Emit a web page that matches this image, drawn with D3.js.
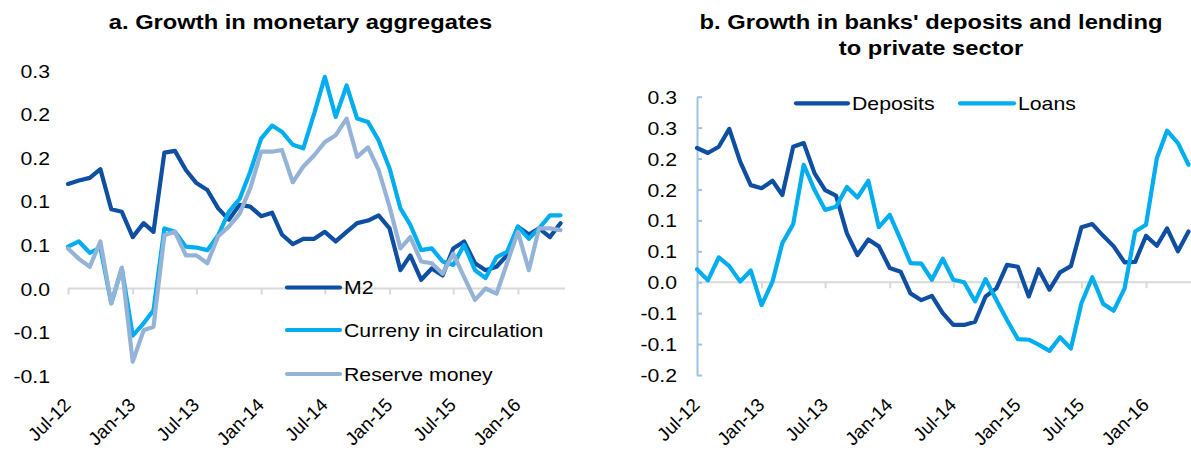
<!DOCTYPE html>
<html lang="en">
<head>
<meta charset="UTF-8" />
<title>Monetary aggregates, deposits and lending</title>
<script src="https://d3js.org/d3.v7.min.js"></script>
<style>
  body { margin: 0; background: #fff; }
  svg text { font-family: Arial, "Liberation Sans", sans-serif; fill: #000; }
  .lab { font-size: 18.8px; }
  .title { font-size: 21px; font-weight: bold; }
  .series { fill: none; stroke-width: 4.2; stroke-linejoin: round; stroke-linecap: round; }
</style>
</head>
<body>
<svg width="1191" height="450"></svg>
<script>
// monthly observations, Jul-12 .. May-16
const startMonth = new Date(2012, 6, 1);
const endMonth = new Date(2016, 4, 1);
const months = d3.timeMonth.range(startMonth, d3.timeMonth.offset(endMonth, 1));
const tickMonths = d3.timeMonth.every(6).range(startMonth, endMonth);

// panel a
const m2 = [0.120, 0.124, 0.127, 0.137, 0.091, 0.088, 0.059, 0.075, 0.065, 0.156, 0.158, 0.136,
  0.121, 0.113, 0.092, 0.079, 0.096, 0.094, 0.083, 0.087, 0.062, 0.051, 0.057, 0.057,
  0.065, 0.054, 0.065, 0.075, 0.078, 0.084, 0.069, 0.021, 0.038, 0.010, 0.023, 0.015,
  0.046, 0.054, 0.029, 0.021, 0.025, 0.038, 0.071, 0.062, 0.069, 0.059, 0.075];
const currency = [0.048, 0.054, 0.041, 0.047, -0.017, 0.023, -0.054, -0.040, -0.025, 0.069, 0.065, 0.048,
  0.047, 0.044, 0.061, 0.088, 0.103, 0.134, 0.172, 0.187, 0.180, 0.165, 0.161, 0.201,
  0.243, 0.197, 0.233, 0.195, 0.191, 0.170, 0.138, 0.092, 0.073, 0.044, 0.046, 0.031,
  0.027, 0.050, 0.021, 0.012, 0.036, 0.042, 0.071, 0.057, 0.069, 0.084, 0.084];
const reserve = [0.046, 0.034, 0.025, 0.054, -0.017, 0.024, -0.084, -0.048, -0.044, 0.061, 0.065, 0.038,
  0.038, 0.029, 0.060, 0.071, 0.086, 0.115, 0.157, 0.157, 0.159, 0.122, 0.140, 0.153,
  0.168, 0.176, 0.195, 0.151, 0.162, 0.136, 0.094, 0.046, 0.059, 0.031, 0.029, 0.017,
  0.040, 0.013, -0.013, 0.000, -0.006, 0.029, 0.065, 0.021, 0.069, 0.069, 0.067];

// panel b
const deposits = [0.217, 0.209, 0.219, 0.248, 0.195, 0.157, 0.152, 0.164, 0.141, 0.219, 0.225, 0.176,
  0.149, 0.140, 0.079, 0.044, 0.069, 0.058, 0.023, 0.017, -0.018, -0.029, -0.022, -0.050,
  -0.069, -0.069, -0.064, -0.023, -0.010, 0.028, 0.025, -0.023, 0.021, -0.012, 0.016, 0.026,
  0.089, 0.094, 0.075, 0.058, 0.032, 0.033, 0.075, 0.059, 0.087, 0.050, 0.082];
const loans = [0.021, 0.003, 0.040, 0.026, 0.001, 0.019, -0.037, 0.001, 0.063, 0.094, 0.190, 0.149,
  0.117, 0.122, 0.154, 0.137, 0.164, 0.089, 0.109, 0.069, 0.031, 0.030, 0.004, 0.038,
  0.004, 0.000, -0.031, 0.005, -0.029, -0.061, -0.092, -0.093, -0.101, -0.111, -0.089, -0.107,
  -0.034, 0.008, -0.035, -0.046, -0.010, 0.082, 0.093, 0.201, 0.245, 0.225, 0.190];

const leftTicks = [-0.10, -0.05, 0, 0.05, 0.10, 0.15, 0.20, 0.25];
const leftTickLabels = ["-0.1", "-0.1", "0.0", "0.1", "0.1", "0.2", "0.2", "0.3"];
const rightTicks = [-0.15, -0.10, -0.05, 0, 0.05, 0.10, 0.15, 0.20, 0.25, 0.30];
const rightTickLabels = ["-0.2", "-0.1", "-0.1", "0.0", "0.1", "0.1", "0.2", "0.2", "0.3", "0.3"];

const dark = "#0E4FA1", cyan = "#00AEEF", grey = "#95B3D7";
const sx = 1.13; // text in the source is a little wide

const svg = d3.select("svg");

function panel(o) {
  const x = d3.scaleTime().domain([startMonth, endMonth]).range([o.x0, o.x1]);
  const y = d3.scaleLinear().domain(o.yDomain).range([o.yBottom, o.yTop]);
  const g = svg.append("g");

  // zero line with tick marks
  g.append("line")
    .attr("x1", o.x0).attr("x2", o.lineEnd)
    .attr("y1", y(0)).attr("y2", y(0))
    .attr("stroke", "#D9D9D9").attr("stroke-width", 2);
  g.append("g")
    .attr("transform", `translate(0,${y(0)})`)
    .call(d3.axisBottom(x).tickValues(tickMonths).tickSize(6).tickSizeOuter(0).tickFormat(""))
    .call(a => a.select(".domain").remove())
    .call(a => a.selectAll("line").attr("stroke", "#D9D9D9").attr("stroke-width", 2));

  // y axis
  const ya = g.append("g")
    .attr("transform", `translate(${o.x0},0)`)
    .call(d3.axisLeft(y).tickValues(o.ticks).tickFormat((d, i) => o.tickLabels[i])
      .tickSize(-5).tickSizeOuter(0));
  ya.attr("font-size", null).attr("font-family", null);
  ya.selectAll("text").attr("class", "lab").attr("x", null).attr("dy", "0.35em")
    .attr("transform", `translate(${-o.labelGap},0) scale(${sx},1)`);
  if (o.yLine) {
    ya.select(".domain").attr("stroke", o.yLine).attr("stroke-width", 2);
    ya.selectAll(".tick line").attr("stroke", o.yLine).attr("stroke-width", 2);
  } else {
    ya.select(".domain").remove();
    ya.selectAll(".tick line").remove();
  }

  // rotated month labels
  const xa = g.append("g")
    .attr("transform", `translate(0,${o.xLabelY})`)
    .call(d3.axisBottom(x).tickValues(tickMonths).tickFormat(d3.timeFormat("%b-%y")).tickSize(0));
  xa.attr("font-size", null).attr("font-family", null);
  xa.select(".domain").remove();
  xa.selectAll("text").attr("class", "lab").attr("text-anchor", "end")
    .attr("y", 0).attr("dy", 0)
    .attr("transform", "translate(3.5,0) rotate(-45)");

  const line = d3.line().x((d, i) => x(months[i])).y(d => y(d));
  o.series.forEach(s => {
    g.append("path").datum(s.values).attr("class", "series")
      .attr("stroke", s.color).attr("d", line);
  });

  // legend
  o.legend.forEach(l => {
    g.append("line").attr("x1", l.x).attr("x2", l.x + l.w).attr("y1", l.y).attr("y2", l.y)
      .attr("stroke", l.color).attr("stroke-width", 4.2).attr("stroke-linecap", "round");
    g.append("text").attr("class", "lab").attr("dy", "0.35em")
      .attr("transform", `translate(${l.x + l.w + 4},${l.y}) scale(${sx},1)`)
      .text(l.name);
  });

  // title
  o.title.forEach((t, i) => {
    g.append("text").attr("class", "title").attr("text-anchor", "middle")
      .attr("transform", `translate(${o.titleX},${29 + i * 26}) scale(${sx},1)`)
      .text(t);
  });
}

panel({
  x0: 68, x1: 560.5, lineEnd: 565,
  yDomain: [-0.10, 0.25], yBottom: 375.6, yTop: 70.7,
  ticks: leftTicks, tickLabels: leftTickLabels, labelGap: 18, yLine: null,
  xLabelY: 406,
  series: [
    { values: m2, color: dark },
    { values: currency, color: cyan },
    { values: reserve, color: grey }
  ],
  legend: [
    { name: "M2", color: dark, x: 287, w: 53, y: 287.5 },
    { name: "Curreny in circulation", color: cyan, x: 287, w: 53, y: 330 },
    { name: "Reserve money", color: grey, x: 287, w: 53, y: 374 }
  ],
  titleX: 300.5,
  title: ["a. Growth in monetary aggregates"]
});

panel({
  x0: 697, x1: 1188.5, lineEnd: 1200,
  yDomain: [-0.15, 0.30], yBottom: 375, yTop: 96.7,
  ticks: rightTicks, tickLabels: rightTickLabels, labelGap: 20, yLine: "#9DC3E6",
  xLabelY: 406,
  series: [
    { values: deposits, color: dark },
    { values: loans, color: cyan }
  ],
  legend: [
    { name: "Deposits", color: dark, x: 796, w: 52, y: 103.3 },
    { name: "Loans", color: cyan, x: 960, w: 54, y: 103.3 }
  ],
  titleX: 931,
  title: ["b. Growth in banks' deposits and lending", "to private sector"]
});
</script>
</body>
</html>
